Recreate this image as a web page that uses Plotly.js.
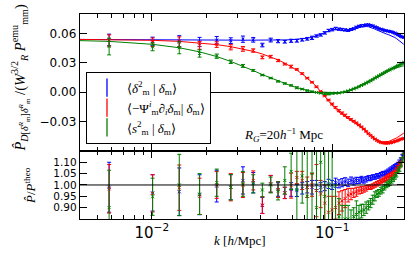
<!DOCTYPE html>
<html><head><meta charset="utf-8">
<script src="https://cdn.plot.ly/plotly-3.0.1.min.js"></script>
<style>html,body{margin:0;padding:0;background:#fff;}#c{width:415px;height:263px;}</style>
</head><body><div id="c"></div>
<script>
// k bins [h/Mpc]
const kBins = [0.0058,0.0101,0.0142,0.0184,0.0229,0.0274,0.0320,0.0365,0.0410,0.0456,
0.0501,0.0546,0.0592,0.0637,0.0682,0.0727,0.0773,0.0818,0.0863,0.0909,
0.0954,0.0999,0.1044,0.1090,0.1135,0.1180,0.1226,0.1271,0.1316,0.1361,
0.1407,0.1452,0.1497,0.1543,0.1588,0.1633,0.1678,0.1724,0.1769,0.1814,
0.1860,0.1905,0.1950,0.1995,0.2041,0.2086,0.2131,0.2177,0.2222,0.2267,
0.2312,0.2358,0.2403,0.2448,0.2494];
// theory curves sampled at k = 0.004 followed by the bins
const kLineStart = [0.004];
const thBlue = [0.0540,0.0540,0.0539,0.0538,0.0537,0.0535,0.0533,0.0532,0.0531,0.0530,0.0531,
0.0533,0.0535,0.0537,0.0540,0.0545,0.0552,0.0562,0.0575,0.0592,0.0610,
0.0628,0.0640,0.0645,0.0642,0.0635,0.0628,0.0626,0.0630,0.0640,0.0652,
0.0662,0.0665,0.0670,0.0672,0.0670,0.0664,0.0656,0.0646,0.0636,0.0626,
0.0617,0.0609,0.0602,0.0596,0.0590,0.0584,0.0577,0.0569,0.0560,0.0550,
0.0539,0.0527,0.0515,0.0502,0.0490];
const thRed = [0.0540,0.0538,0.0531,0.0520,0.0505,0.0487,0.0466,0.0443,0.0418,0.0391,0.0362,
0.0331,0.0298,0.0263,0.0226,0.0187,0.0146,0.0102,0.0057,0.0010,-0.0040,
-0.0090,-0.0135,-0.0172,-0.0204,-0.0229,-0.0250,-0.0270,-0.0289,-0.0306,-0.0323,
-0.0342,-0.0362,-0.0384,-0.0406,-0.0427,-0.0446,-0.0463,-0.0478,-0.0490,-0.0499,
-0.0505,-0.0507,-0.0508,-0.0506,-0.0503,-0.0498,-0.0492,-0.0485,-0.0477,-0.0468,
-0.0458,-0.0448,-0.0438,-0.0428,-0.0418];
const thGreen = [0.0528,0.0520,0.0490,0.0455,0.0413,0.0365,0.0315,0.0268,0.0222,0.0180,0.0145,
0.0114,0.0088,0.0066,0.0047,0.0031,0.0018,0.0007,-0.0002,-0.0008,-0.0012,
-0.0014,-0.0014,-0.0012,-0.0008,-0.0002,0.0007,0.0017,0.0028,0.0040,0.0052,
0.0065,0.0078,0.0091,0.0104,0.0116,0.0128,0.0140,0.0152,0.0163,0.0174,
0.0184,0.0194,0.0203,0.0212,0.0220,0.0227,0.0234,0.0240,0.0246,0.0251,
0.0256,0.0260,0.0264,0.0267,0.0270];
// measured / theory ratios and their errors at the bins
const rBlue = [0.99,0.965,0.97,0.957,0.995,0.99,1.02,1.01,0.91,1.005,
0.98,0.965,0.98,0.975,0.985,0.99,0.99,1.0,0.99,0.995,
1.005,1.0,1.01,1.005,1.01,1.015,1.01,1.02,1.015,1.02,
1.02,1.025,1.02,1.025,1.03,1.03,1.035,1.035,1.04,1.04,
1.045,1.05,1.05,1.055,1.06,1.065,1.07,1.075,1.08,1.085,
1.09,1.10,1.11,1.125,1.14];
const eBlue = [0.11,0.08,0.105,0.088,0.07,0.055,0.06,0.045,0.035,0.037,
0.03,0.025,0.03,0.026,0.025,0.025,0.03,0.02,0.02,0.02,
0.02,0.02,0.02,0.018,0.018,0.017,0.016,0.015,0.015,0.014,
0.013,0.013,0.012,0.012,0.011,0.011,0.01,0.01,0.01,0.01,
0.01,0.01,0.01,0.01,0.01,0.01,0.01,0.01,0.01,0.01,
0.01,0.01,0.01,0.01,0.01];
const rRed = [0.983,0.963,0.988,0.95,1.00,0.99,1.00,1.02,0.911,1.005,
0.98,0.965,0.997,1.033,1.02,0.99,1.00,0.975,0.96,0.92,
0.88,0.89,0.90,0.92,0.93,0.94,0.955,0.96,0.965,0.97,
0.975,0.978,0.98,0.985,0.99,0.99,0.995,1.00,1.005,1.01,
1.015,1.02,1.025,1.03,1.035,1.04,1.045,1.05,1.055,1.065,
1.075,1.085,1.095,1.11,1.13];
const eRed = [0.107,0.082,0.10,0.08,0.059,0.06,0.055,0.042,0.037,0.037,
0.035,0.025,0.055,0.027,0.04,0.045,0.05,0.115,0.06,0.08,
0.07,0.06,0.05,0.05,0.045,0.04,0.03,0.025,0.02,0.02,
0.015,0.015,0.012,0.012,0.01,0.01,0.01,0.01,0.01,0.01,
0.01,0.01,0.01,0.01,0.01,0.01,0.01,0.01,0.01,0.01,
0.01,0.01,0.01,0.01,0.01];
const rGreen = [0.90,0.948,1.00,0.96,1.01,0.99,1.005,1.005,0.978,1.0,
0.974,1.02,1.06,0.98,1.04,0.95,1.05,0.9,1.1,0.95,
1.0,0.75,0.8,0.86,0.83,0.85,0.85,0.84,0.86,0.87,
0.88,0.885,0.89,0.90,0.91,0.92,0.935,0.95,0.96,0.965,
0.975,0.98,0.99,1.00,1.005,1.01,1.02,1.025,1.035,1.045,
1.06,1.07,1.09,1.11,1.13];
const eGreen = [0.165,0.082,0.135,0.09,0.06,0.056,0.055,0.04,0.03,0.035,
0.04,0.06,0.08,0.2,0.12,0.25,0.3,0.4,0.6,1.0,
0.9,0.5,0.2,0.08,0.08,0.06,0.06,0.05,0.04,0.06,
0.03,0.03,0.025,0.025,0.02,0.02,0.02,0.02,0.015,0.015,
0.015,0.015,0.012,0.012,0.012,0.012,0.012,0.01,0.01,0.01,
0.01,0.01,0.01,0.01,0.01];
const names = ['⟨<i>δ</i><sup>2</sup><sub>m</sub> | <i>δ</i><sub>m</sub>⟩',
 '⟨−Ψ<sup><i>i</i></sup><sub>m</sub>∂<sub><i>i</i></sub><i>δ</i><sub>m</sub>| <i>δ</i><sub>m</sub>⟩',
 '⟨<i>s</i><sup>2</sup><sub>m</sub> | <i>δ</i><sub>m</sub>⟩'];
const colors = ['#0000ff','#ff0000','#008000'];

const kLine = kLineStart.concat(kBins);
const series = [[thBlue,rBlue,eBlue],[thRed,rRed,eRed],[thGreen,rGreen,eGreen]];
const traces = [];
series.forEach(([th,r,e],s)=>{
  const c = colors[s];
  const topY = r.map((v,i)=>v*th[i+1]);
  const topE = e.map((v,i)=>Math.abs(v*th[i+1]));
  traces.push({x:kLine,y:th,xaxis:'x2',yaxis:'y',mode:'lines',line:{color:c,width:1},showlegend:false,hoverinfo:'skip'});
  traces.push({x:kBins,y:topY,xaxis:'x2',yaxis:'y',mode:'markers',showlegend:false,
    marker:{symbol:'x-thin',size:3,color:c,line:{width:1,color:c}},
    error_y:{type:'data',array:topE,color:c,thickness:1,width:2}});
  traces.push({x:kBins,y:r,xaxis:'x',yaxis:'y2',mode:'markers',showlegend:false,
    marker:{symbol:'x-thin',size:3,color:c,line:{width:1,color:c}},
    error_y:{type:'data',array:e,color:c,thickness:1,width:2}});
});
names.forEach((n,s)=>{
  traces.push({x:[null],y:[null],xaxis:'x2',yaxis:'y',mode:'markers',name:n,
    marker:{symbol:'line-ns-open',size:13,color:colors[s],line:{width:1.3,color:colors[s]}}});
});

const tickFont = {family:'DejaVu Sans',size:12,color:'#000'};
const tickFontSmall = {family:'DejaVu Sans',size:10.5,color:'#000'};
const serif = {family:'Liberation Serif',size:13,color:'#000'};
const serifBig = {family:'Liberation Serif',size:14.5,color:'#000'};
const ax = {showline:true,linecolor:'#000',linewidth:1.3,ticks:'inside',ticklen:7,tickcolor:'#000',tickwidth:1,showgrid:false,zeroline:false,mirror:'ticks'};
const layout = {
  width:415,height:263,margin:{l:80,r:11,t:14,b:44},
  paper_bgcolor:'#fff',plot_bgcolor:'#fff',showlegend:true,
  xaxis:Object.assign({},ax,{type:'log',range:[Math.log10(0.004),Math.log10(0.25)],anchor:'y2',dtick:1,exponentformat:'power',tickfont:tickFont,
    minor:{dtick:'D1',ticks:'inside',ticklen:4,tickcolor:'#000',showgrid:false}}),
  xaxis2:Object.assign({},ax,{type:'log',matches:'x',range:[Math.log10(0.004),Math.log10(0.25)],anchor:'y',dtick:1,showticklabels:false,
    minor:{dtick:'D1',ticks:'inside',ticklen:4,tickcolor:'#000',showgrid:false}}),
  yaxis:Object.assign({},ax,{domain:[0.332,1],range:[-0.06,0.08],tickvals:[-0.03,0,0.03,0.06],tickformat:'.2f',tickfont:tickFont,
    zeroline:true,zerolinecolor:'#000',zerolinewidth:1}),
  yaxis2:Object.assign({},ax,{domain:[0,0.332],range:[0.85,1.15],tickvals:[0.9,0.95,1.0,1.05,1.1],tickformat:'.2f',tickfont:tickFontSmall}),
  legend:{x:0.0185,y:0.7185,xanchor:'left',yanchor:'top',bgcolor:'#fff',bordercolor:'#000',borderwidth:1,font:serif,itemwidth:30,tracegroupgap:0},
  shapes:[{type:'line',xref:'x domain',yref:'y2',x0:0,x1:1,y0:1,y1:1,line:{color:'#000',width:1}}],
  annotations:[
    {text:'<i>R</i><sub><i>G</i></sub>=20<i>h</i><sup>−1</sup> Mpc',xref:'paper',yref:'paper',x:0.627,y:0.41,showarrow:false,font:serif},
    {text:'<i>k</i> [<i>h</i>/Mpc]',xref:'paper',yref:'paper',x:0.495,y:-0.151,showarrow:false,font:serif},
    {text:'<i>P̂</i>/<i>P</i><sup>theo</sup>',xref:'paper',yref:'paper',x:-0.155,y:0.165,textangle:-90,showarrow:false,font:serif,xanchor:'center',yanchor:'middle'},
    {text:'<i>P̂</i><sub><i>D</i>[<i>δ</i><sup><i>R</i></sup><sub>m</sub>]<i>δ</i><sup><i>R</i></sup><sub>m</sub></sub> /(<i>W</i><sup>3/2</sup><sub><i>R</i></sub> <i>P</i><sup>emu</sup><sub>mm</sub>)',
      xref:'paper',yref:'paper',x:-0.185,y:0.69,textangle:-90,showarrow:false,font:serifBig,xanchor:'center',yanchor:'middle'}
  ]
};
Plotly.newPlot('c',traces,layout,{staticPlot:true,displayModeBar:false});
</script></body></html>
